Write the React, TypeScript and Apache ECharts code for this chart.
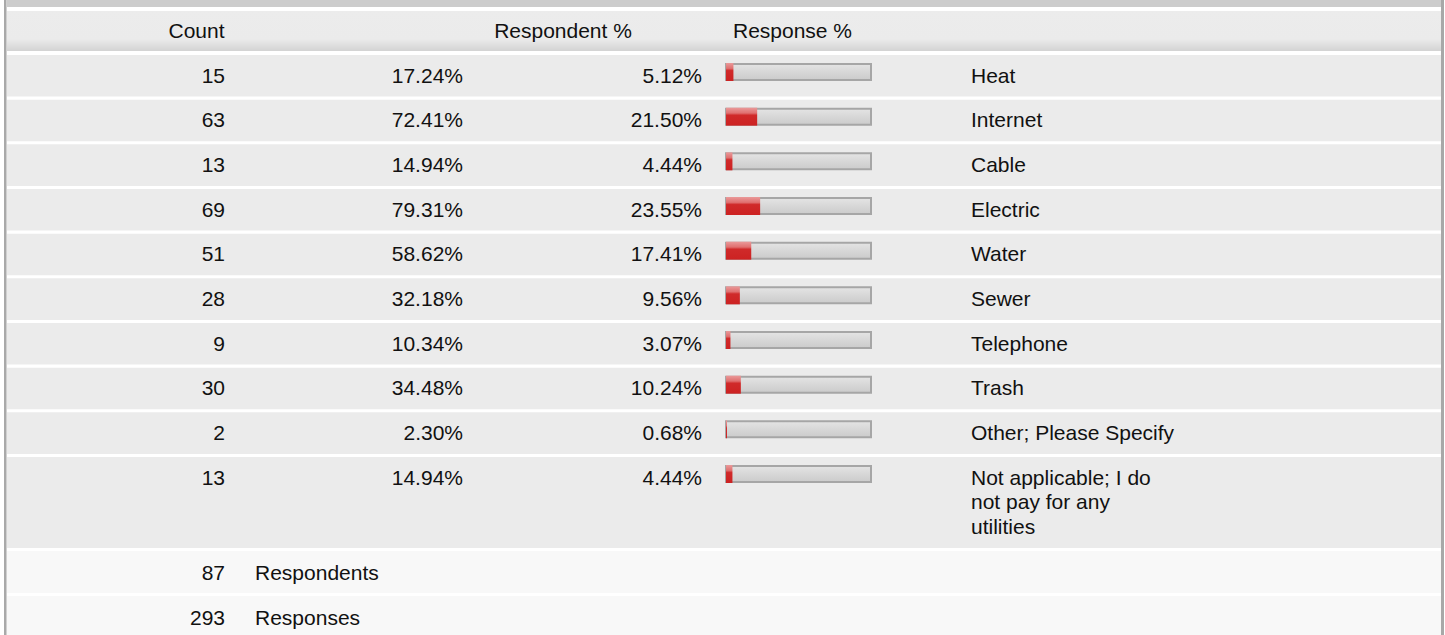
import React, { useEffect, useRef } from 'react';
import * as echarts from 'echarts';

const categories = [
  'Heat',
  'Internet',
  'Cable',
  'Electric',
  'Water',
  'Sewer',
  'Telephone',
  'Trash',
  'Other; Please Specify',
  'Not applicable; I do not pay for any utilities',
];
const counts = [15, 63, 13, 69, 51, 28, 9, 30, 2, 13];
const respondentPct = [17.24, 72.41, 14.94, 79.31, 58.62, 32.18, 10.34, 34.48, 2.3, 14.94];
const responsePct = [5.12, 21.5, 4.44, 23.55, 17.41, 9.56, 3.07, 10.24, 0.68, 4.44];
const headers = ['Count', 'Respondent %', 'Response %'];
const summaryValues = [87, 293];
const summaryLabels = ['Respondents', 'Responses'];
const fullScale = categories.map(() => 100);

const FONT = '"Liberation Sans", Arial, sans-serif';
const FS = 21;
const TXT = '#111111';

export default function App() {
  const ref = useRef<HTMLDivElement>(null);
  useEffect(() => {
    if (!ref.current) return;
    const chart = echarts.init(ref.current, undefined, { renderer: 'svg' });
    const gridTop = 49.67;
    const gridH = 446.67;
    chart.setOption({
      animation: false,
      backgroundColor: '#ffffff',
      grid: [
        { left: 726, width: 145, top: gridTop, height: gridH },
        { left: 725, width: 147, top: gridTop, height: gridH },
      ],
      xAxis: [
        { type: 'value', gridIndex: 0, min: 0, max: 100, show: false },
        { type: 'value', gridIndex: 1, min: 0, max: 100, show: false },
      ],
      yAxis: [
        { type: 'category', gridIndex: 0, data: categories, inverse: true, show: false },
        { type: 'category', gridIndex: 1, data: categories, inverse: true, show: false },
      ],
      series: [
        {
          type: 'bar',
          xAxisIndex: 1,
          yAxisIndex: 1,
          data: fullScale,
          barWidth: 18,
          z: 5,
          silent: true,
          itemStyle: {
            color: {
              type: 'linear', x: 0, y: 0, x2: 0, y2: 1,
              colorStops: [
                { offset: 0, color: '#e4e4e4' },
                { offset: 1, color: '#cbcbcb' },
              ],
            },
            borderColor: '#a6a6a6',
            borderWidth: 2,
          },
        },
        {
          type: 'bar',
          xAxisIndex: 0,
          yAxisIndex: 0,
          data: responsePct,
          barWidth: 18,
          z: 6,
          silent: true,
          itemStyle: {
            color: {
              type: 'linear', x: 0, y: 0, x2: 0, y2: 1,
              colorStops: [
                { offset: 0, color: '#ea9a9a' },
                { offset: 0.3, color: '#e07070' },
                { offset: 0.42, color: '#d02a2a' },
                { offset: 1, color: '#cc2222' },
              ],
            },
          },
        },
      ],
    });

    const centers = categories.map((_, i) => chart.convertToPixel({ yAxisIndex: 0 }, i) as number);
    const H = 635;
    const g: any[] = [];
    const rect = (x: number, y: number, w: number, h: number, fill: any, z = 1) =>
      g.push({ type: 'rect', silent: true, z, shape: { x, y, width: w, height: h }, style: { fill } });
    const text = (x: number, y: number, t: string, align: string, extra: any = {}) =>
      g.push({
        type: 'text', silent: true, z: 10, x, y,
        style: { text: t, fill: TXT, font: `${FS}px ${FONT}`, fontSize: FS, fontFamily: FONT, align, verticalAlign: 'middle', ...extra },
      });

    // frame
    rect(7, 0, 1434, 7, '#cccccc');
    rect(4, 0, 2, H, '#a9a9a9');
    rect(6, 0, 1, H, '#d0d0d0');
    rect(1441, 0, 3, H, '#a8a8a8');
    // header
    rect(7, 11, 1434, 40, {
      type: 'linear', x: 0, y: 0, x2: 0, y2: 1,
      colorStops: [
        { offset: 0, color: '#ececec' },
        { offset: 0.7, color: '#ebebeb' },
        { offset: 1, color: '#d3d3d3' },
      ],
    });
    // data rows
    centers.forEach((c, i) => {
      const top = c - 17;
      const h = i === categories.length - 1 ? 91 : 41.6;
      rect(7, top, 1434, h, '#ebebeb');
    });
    const lastBottom = centers[centers.length - 1] - 17 + 91;
    const sumTops = [lastBottom + 3, lastBottom + 48];
    sumTops.forEach((t, i) => rect(7, t, 1434, i === 0 ? 42 : H - t, '#f8f8f8'));

    // header texts
    const headerX = [196.5, 563, 792.5];
    headers.forEach((h, i) => text(headerX[i], 30.5, h, 'center'));

    // data texts
    centers.forEach((c, i) => {
      const y = c + 3.3;
      text(225, y, String(counts[i]), 'right');
      text(463, y, respondentPct[i].toFixed(2) + '%', 'right');
      text(702, y, responsePct[i].toFixed(2) + '%', 'right');
      text(971, y - 12.25, categories[i], 'left', {
        verticalAlign: 'top', width: 207, overflow: 'break', lineHeight: 24.5,
      });
    });

    // summary
    summaryValues.forEach((v, i) => {
      const y = sumTops[i] + 21.3;
      text(225, y, String(v), 'right');
      text(255, y, summaryLabels[i], 'left');
    });

    chart.setOption({ graphic: g });
    return () => chart.dispose();
  }, []);
  return <div ref={ref} style={{ position: 'fixed', left: 0, top: 0, width: 1445, height: 635 }} />;
}
